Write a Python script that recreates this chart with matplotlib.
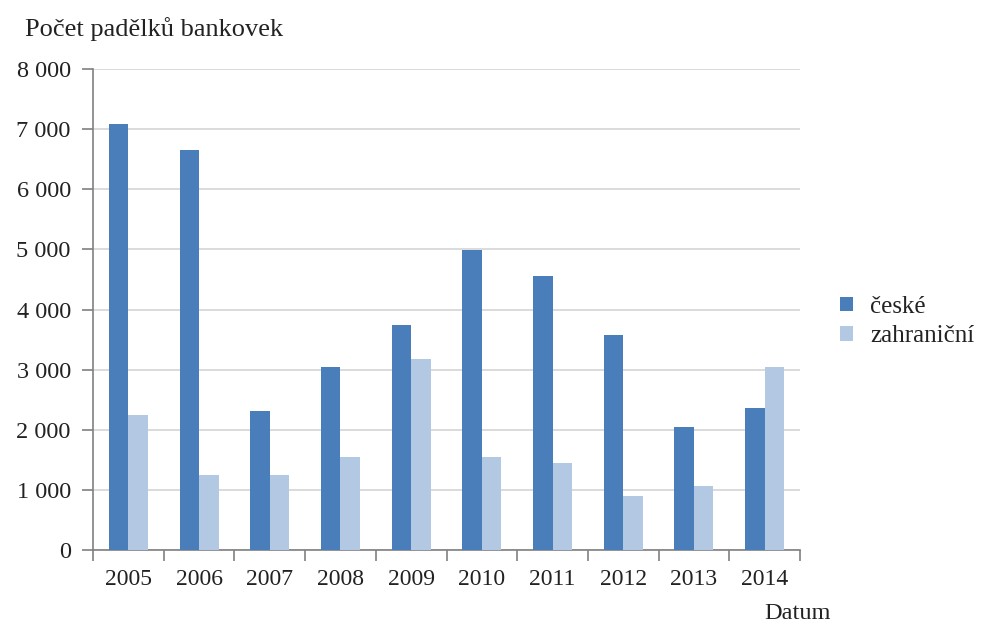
import matplotlib
matplotlib.use("Agg")
import matplotlib.pyplot as plt
import numpy as np

# data
roky = ["2005", "2006", "2007", "2008", "2009", "2010", "2011", "2012", "2013", "2014"]
ceske = [7090, 6655, 2315, 3045, 3750, 4990, 4550, 3580, 2040, 2370]
zahranicni = [2245, 1240, 1240, 1540, 3180, 1540, 1445, 905, 1070, 3045]

plt.rcParams['font.family'] = ['Liberation Serif', 'DejaVu Serif']

fig = plt.figure(figsize=(9.95, 6.28), dpi=100)
ax = fig.add_axes([0.0935, 0.1242, 0.7105, 0.7658])

x = np.arange(len(roky))
w = 0.275
ax.bar(x - w/2, ceske, w, color="#4A7EBB", label="české", zorder=3)
ax.bar(x + w/2, zahranicni, w, color="#B3C8E3", label="zahraniční", zorder=3)

ax.set_xlim(-0.5, len(roky) - 0.5)
ax.set_ylim(0, 8000)
ax.set_yticks(range(0, 8001, 1000))
ax.set_yticklabels(["0" if v == 0 else f"{v//1000} 000" for v in range(0, 8001, 1000)])
ax.set_xticks(x)
ax.set_xticklabels(roky)
ax.set_xticks(np.arange(-0.5, len(roky), 1), minor=True)

ax.yaxis.grid(True, color="#d4d4d4", linewidth=1.2, zorder=0)
for s in ["top", "right"]:
    ax.spines[s].set_visible(False)
for s in ["left", "bottom"]:
    ax.spines[s].set_color("#808080")
    ax.spines[s].set_linewidth(1.2)

ax.tick_params(axis="y", length=8, width=1.2, color="#808080", labelsize=17.5, pad=8, labelcolor="#222222")
ax.tick_params(axis="x", which="major", length=0, labelsize=17, pad=14, labelcolor="#222222")
ax.tick_params(axis="x", which="minor", length=8, width=1.2, color="#808080")

fig.text(0.025, 0.954, "Počet padělků bankovek", fontsize=19, color="#222222", va="center", ha="left")
fig.text(0.835, 0.007, "Datum", fontsize=17.5, color="#222222", va="bottom", ha="right")

ax.legend(loc="center left", bbox_to_anchor=(1.025, 0.475), frameon=False, fontsize=18,
          handlelength=0.5, handleheight=0.5, handletextpad=0.7, labelspacing=0.3,
          labelcolor="#222222")

fig.savefig("out.png", dpi=100)
